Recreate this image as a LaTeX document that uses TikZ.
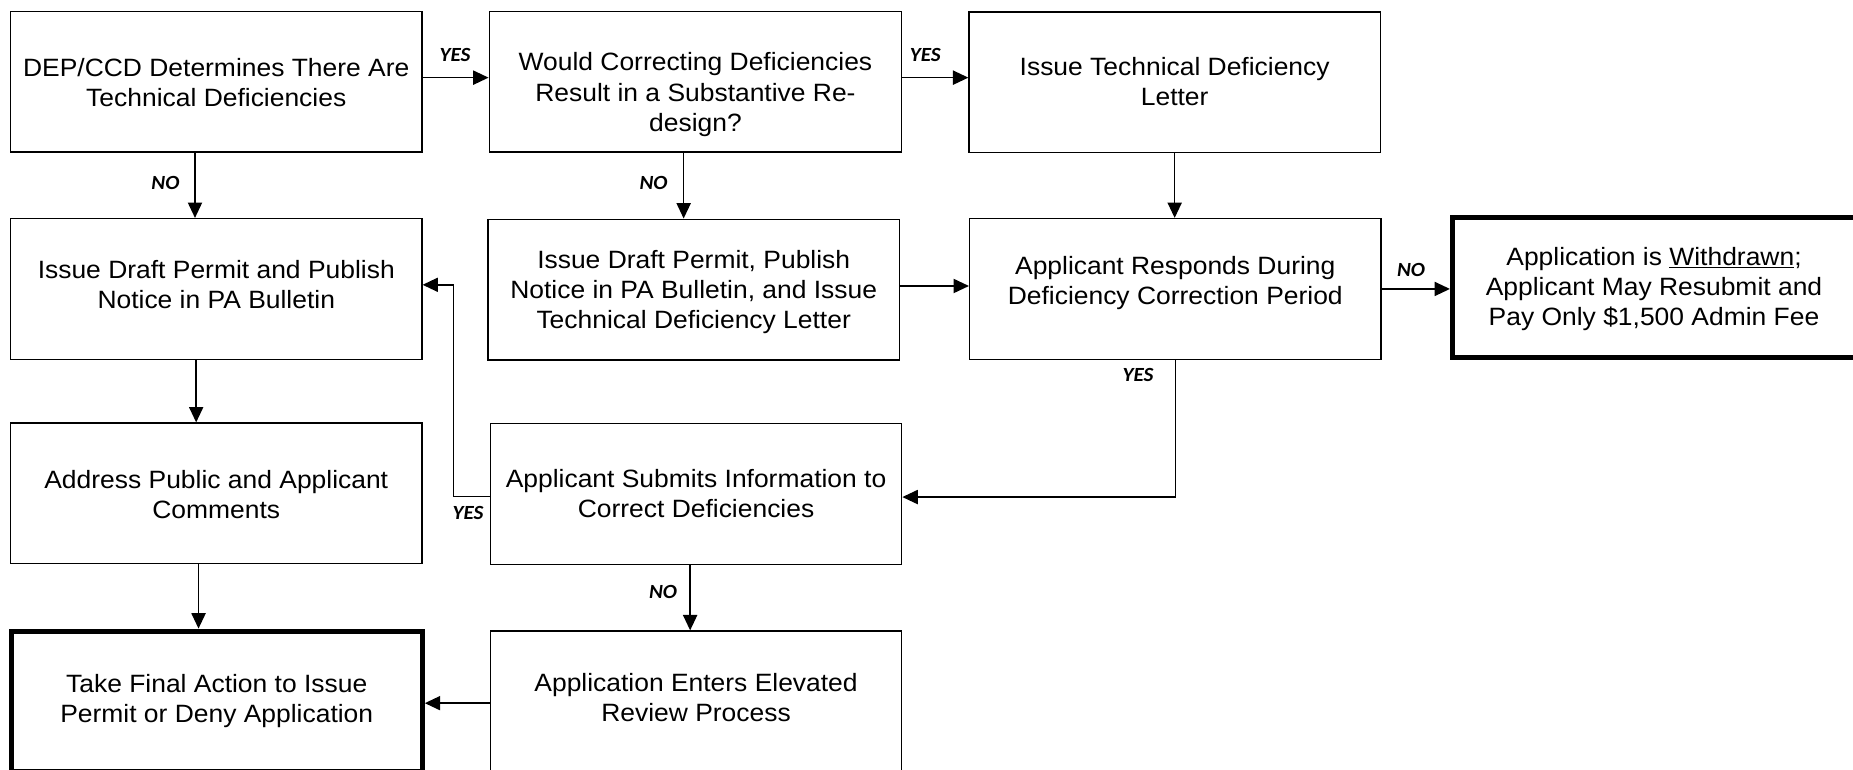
\documentclass[tikz,border=0pt]{standalone}
\usepackage{fontspec}
\setmainfont{Liberation Sans}[FakeStretch=1.055]
\newfontfamily\lblfont{Carlito}[FakeStretch=1.05]
\usetikzlibrary{arrows.meta}
\begin{document}
\begin{tikzpicture}[x=1pt,y=-1pt,
  box/.style={draw, line width=1.2pt, minimum width=348pt, minimum height=119pt, inner sep=0pt},
  endbox/.style={box, line width=4.2pt},
  txt/.style={align=center, font=\fontsize{21.2}{25.5}\selectfont, inner sep=0pt},
  lbl/.style={font=\lblfont\bfseries\itshape\fontsize{17}{17}\selectfont, inner sep=0pt},
  arr/.style={line width=1.2pt, -{Triangle[length=13pt,width=12pt]}}]
\useasboundingbox (0,0) rectangle (1568,651);
\fill[white] (0,0) rectangle (1568,651);
% boxes
\node[box] (b1) at (183,69) {};
\node[box, minimum width=349pt] (b2) at (588.5,69) {};
\node[box] (b3) at (994,69.5) {};
\node[box] (b4) at (183,244.5) {};
\node[box] (b5) at (587,245) {};
\node[box] (b6) at (994.5,244.5) {};
\node[endbox, minimum width=346pt] (b7) at (1402,243.4) {};
\node[box] (b8) at (183,417.5) {};
\node[box] (b9) at (589,418) {};
\node[endbox] (b10) at (183.4,593.5) {};
\node[box] (b11) at (589,593.5) {};
% texts
\node[txt] (t1) at (183,69.7) {DEP/CCD Determines There Are\\Technical Deficiencies};
\node[txt] (t2) at (588.5,80) {Would Correcting Deficiencies\\Result in a Substantive Re-\\design?};
\node[txt] (t3) at (994,69) {Issue Technical Deficiency\\Letter};
\node[txt] (t4) at (183,241) {Issue Draft Permit and Publish\\Notice in PA Bulletin};
\node[txt] (t5) at (587,247) {Issue Draft Permit, Publish\\Notice in PA Bulletin, and Issue\\Technical Deficiency Letter};
\node[txt] (t6) at (994.5,239.6) {Applicant Responds During\\Deficiency Correction Period};
\node[txt] (t7) at (1399.6,244.7) {Application is \underline{Withdrawn};\\Applicant May Resubmit and\\Pay Only \$1,500 Admin Fee};
\node[txt] (t8) at (183,418.5) {Address Public and Applicant\\Comments};
\node[txt] (t9) at (589,417.4) {Applicant Submits Information to\\Correct Deficiencies};
\node[txt] (t10) at (183.4,593.5) {Take Final Action to Issue\\Permit or Deny Application};
\node[txt] (t11) at (589,590.5) {Application Enters Elevated\\Review Process};
% connectors
\draw[arr] ([yshift=3.3pt]b1.east) -- ([yshift=3.3pt]b1.east -| b2.west);
\draw[arr] ([yshift=3.3pt]b2.east) -- ([yshift=3.3pt]b2.east -| b3.west);
\draw[arr] ([xshift=-18pt]b1.south) -- ([xshift=-18pt]b1.south |- b4.north);
\draw[arr] ([xshift=-10pt]b2.south) -- ([xshift=-10pt]b2.south |- b5.north);
\draw[arr] (b3.south) -- (b3.south |- b6.north);
\draw[arr] ([xshift=-17pt]b4.south) -- ([xshift=-17pt]b4.south |- b8.north);
\draw[arr] ([yshift=3pt]b5.east) -- ([yshift=3pt]b5.east -| b6.west);
\draw[arr] (b6.east) -- (b6.east -| b7.west);
\draw[arr] (b6.south) |- ([yshift=-2.6pt]b9.east);
\coordinate (j1) at (383.8,420);
\draw[arr] ([yshift=-2pt]b9.west) -- (j1) |- ([yshift=3.5pt]b4.east);
\draw[arr] ([xshift=-5pt]b9.south) -- ([xshift=-5pt]b9.south |- b11.north);
\draw[arr] ([xshift=-15pt]b8.south) -- ([xshift=-15pt]b8.south |- b10.north);
\draw[arr] ([yshift=-1.5pt]b11.west) -- ([yshift=-1.5pt]b11.west -| b10.east);
% labels
\node[lbl] (l1) at (385,46.5) {YES};
\node[lbl] (l2) at (783,46.5) {YES};
\node[lbl] (l3) at (140,155) {NO};
\node[lbl] (l4) at (553,155) {NO};
\node[lbl] (l5) at (1194,228.5) {NO};
\node[lbl] (l6) at (963,317.5) {YES};
\node[lbl] (l7) at (396,434) {YES};
\node[lbl] (l8) at (561,501) {NO};
\end{tikzpicture}
\end{document}
